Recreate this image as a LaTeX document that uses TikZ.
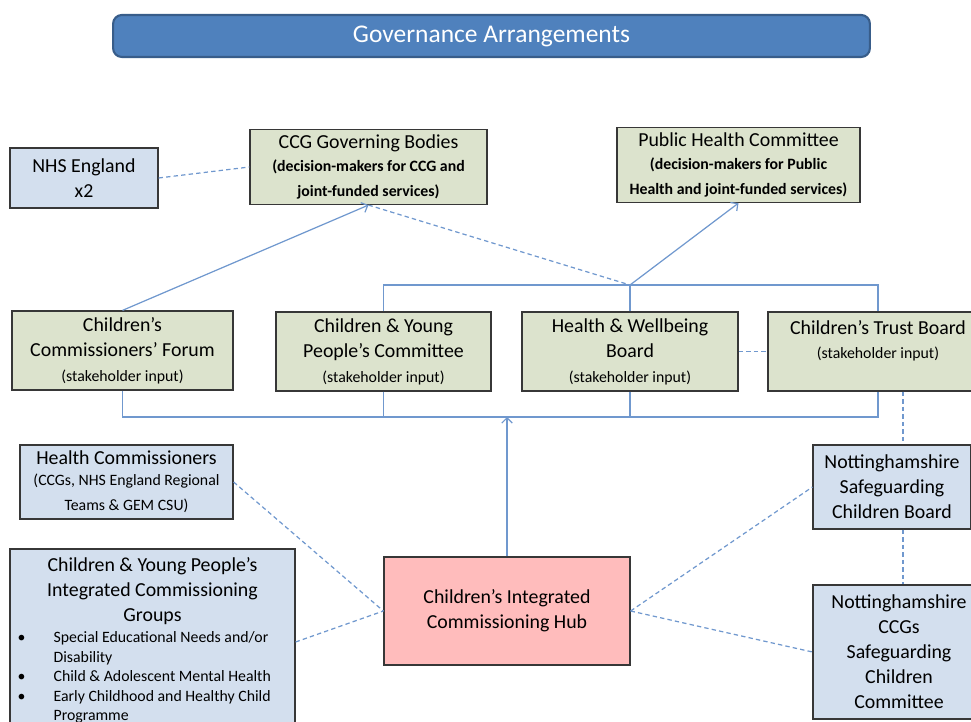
\documentclass[tikz,border=0pt]{standalone}
\usepackage{fontspec}
\setmainfont{Carlito}
\usetikzlibrary{positioning,arrows.meta}

\definecolor{hdrblue}{RGB}{79,129,189}
\definecolor{hdredge}{RGB}{56,93,138}
\definecolor{lblue}{RGB}{211,223,238}
\definecolor{lgreen}{RGB}{220,227,205}
\definecolor{lpink}{RGB}{255,188,188}
\definecolor{wire}{RGB}{112,152,206}
\definecolor{boxedge}{RGB}{55,55,55}

\newcommand{\stakein}{\par\fontsize{9}{12.5}\selectfont(stakeholder input)}
\newcommand{\decmk}[1]{\par\vspace{2pt}\fontsize{9}{11.4}\selectfont\bfseries #1}
\newcommand{\smalltxt}[1]{\par\vspace{1.5pt}\fontsize{9}{10.3}\selectfont #1}

\begin{document}
\begin{tikzpicture}[x=0.02cm, y=-0.02cm,
  govbox/.style={draw=boxedge, line width=0.7pt, inner sep=0.1cm, align=flush center,
    font=\fontsize{11.3}{14.2}\selectfont},
  blubox/.style={govbox, fill=lblue},
  grnbox/.style={govbox, fill=lgreen},
  hubbox/.style={govbox, fill=lpink},
  hdr/.style={draw=hdredge, line width=1.2pt, fill=hdrblue, rounded corners=5pt,
    text=white, font=\fontsize{14.5}{17}\selectfont},
  link/.style={wire, line width=0.7pt},
  dlink/.style={link, dash pattern=on 2.5pt off 1.8pt},
  >={Straight Barb[length=3pt, width=6pt]}]

\useasboundingbox ( 0, 0 ) rectangle ( 971, 722 );

% Title
\node (title) at ( 491.5, 36 ) [hdr, minimum width=15.14cm, minimum height=0.84cm] {Governance Arrangements};

% Decision-makers
\node (nhs) at ( 84, 178 ) [blubox, text width=2.76cm, minimum height=1.2cm] {NHS England\\x2};
\node (ccg) at ( 368.5, 167 ) [grnbox, text width=4.54cm, minimum height=1.48cm]
  {CCG Governing Bodies\decmk{(decision-makers for CCG and\\joint-funded services)}};
\node (phc) at ( 738.5, 165 ) [grnbox, text width=4.66cm, minimum height=1.48cm]
  {Public Health Committee\decmk{(decision-makers for Public\\Health and joint-funded services)}};

% Stakeholder groups
\node (ccf) at ( 122.5, 350.5 ) [grnbox, text width=4.22cm, minimum height=1.58cm] {Children's\\Commissioners' Forum\stakein};
\node (cyp) at ( 383.5, 351.5 ) [grnbox, text width=4.1cm, minimum height=1.58cm] {Children \& Young\\People's Committee\stakein};
\node (hwb) at ( 630, 351.5 ) [grnbox, text width=4.12cm, minimum height=1.58cm] {Health \& Wellbeing\\Board\stakein};
\node (ctb) at ( 878, 351.5 ) [grnbox, text width=4.2cm, minimum height=1.58cm] {};
\node (ctbtxt) [govbox, draw=none, text width=4.2cm, below=0.06cm of ctb.north] {Children's Trust Board\stakein};

% Commissioners and hub
\node (hc) at ( 126.5, 482 ) [blubox, text width=4.06cm, minimum height=1.48cm]
  {Health Commissioners\smalltxt{(CCGs, NHS England Regional\\Teams \& GEM CSU)}};
\node (icg) at ( 152.5, 642 ) [blubox, text width=5.5cm, minimum height=3.72cm]
  {Children \& Young People's\\Integrated Commissioning\\Groups\par\vspace{1.4pt}
   \fontsize{9}{11.1}\selectfont\hspace*{-0.33cm}%
   \begin{tabular}{@{}p{0.72cm}@{}l@{}}
   \textbullet & Special Educational Needs and/or\\
               & Disability\\
   \textbullet & Child \& Adolescent Mental Health\\
   \textbullet & Early Childhood and Healthy Child\\
               & Programme
   \end{tabular}};
\node (hub) at ( 507, 611 ) [hubbox, text width=4.72cm, minimum height=2.16cm] {Children's Integrated\\Commissioning Hub};

% Safeguarding
\node (nscb) at ( 892, 487 ) [blubox, text width=2.96cm, minimum height=1.68cm] {Nottinghamshire\\Safeguarding\\Children Board};
\node (ccgs) at ( 899, 652 ) [blubox, text width=3.24cm, minimum height=2.68cm] {Nottinghamshire\\CCGs\\Safeguarding\\Children\\Committee};

% Upper bus
\coordinate (jt) at ( 630, 285 );
\draw [link] (cyp.north) |- (jt) -| (ctb.north);
\draw [link] (hwb.north) -- (jt);
\draw [link, ->] (jt) -- (phc.south);
\draw [link, ->] (ccf.north) -- (ccg.south);
\draw [dlink] (ccg.south) -- (jt);
\draw [dlink] (nhs.east) -- (ccg.west);
\draw [dlink] (hwb.east) -- (ctb.west);

% Lower bus
\coordinate (jb) at ( 507, 417 );
\draw [link] (ccf.south) |- (jb) -| (ctb.south);
\draw [link] (cyp.south) -- (cyp.south |- jb);
\draw [link] (hwb.south) -- (hwb.south |- jb);
\draw [link, ->] (hub.north) -- (jb);

% Dashed links to hub
\draw [dlink] (hc.east) -- (hub.west);
\draw [dlink] (icg.east) -- (hub.west);
\draw [dlink] (hub.east) -- (nscb.west);
\draw [dlink] (hub.east) -- (ccgs.west);
\draw [dlink] ([xshift=0.22cm]nscb.north |- ctb.south) -- ([xshift=0.22cm]nscb.north);
\draw [dlink] ([xshift=0.22cm]nscb.south) -- ([xshift=0.22cm]nscb.south |- ccgs.north);

\end{tikzpicture}
\end{document}
